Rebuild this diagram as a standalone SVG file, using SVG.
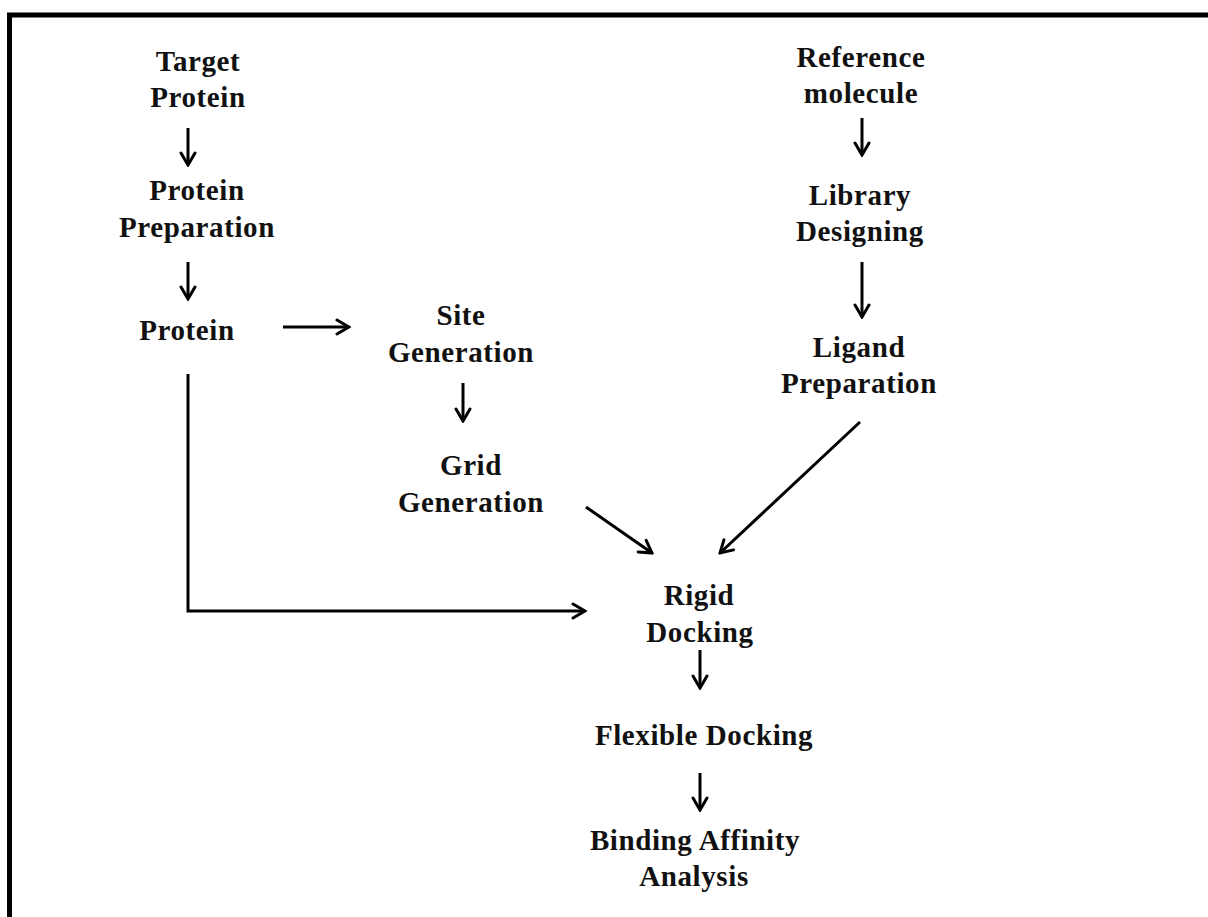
<svg xmlns="http://www.w3.org/2000/svg" width="1208" height="917" viewBox="0 0 1208 917">
<style>
text{font-family:"Liberation Serif","Times New Roman",serif;font-weight:bold;font-size:29px;fill:#111;text-anchor:middle;letter-spacing:0.6px}
.c{fill:none;stroke:#000;stroke-width:3;marker-end:url(#ah)}
.b{fill:none;stroke:#000;stroke-width:5}
</style>
<defs>
<marker id="ah" viewBox="0 0 16 18" refX="14" refY="9" markerWidth="16" markerHeight="18" markerUnits="userSpaceOnUse" orient="auto">
<path d="M2,2 L14,9 L2,16" fill="none" stroke="#000" stroke-width="3" stroke-linecap="round" stroke-linejoin="miter"/>
</marker>
</defs>
<rect width="1208" height="917" fill="#fff"/>
<g id="frame">
<line class="b" x1="9.5" y1="15" x2="9.5" y2="917"/>
<line class="b" x1="7" y1="15" x2="1208" y2="15"/>
</g>
<g id="target-protein"><text x="198" y="71">Target</text><text x="198" y="107">Protein</text></g>
<g id="protein-preparation"><text x="197" y="200">Protein</text><text x="197" y="237">Preparation</text></g>
<g id="protein"><text x="187" y="340">Protein</text></g>
<g id="site-generation"><text x="461" y="325">Site</text><text x="461" y="362">Generation</text></g>
<g id="grid-generation"><text x="471" y="475">Grid</text><text x="471" y="512">Generation</text></g>
<g id="reference-molecule"><text x="861" y="67">Reference</text><text x="861" y="103">molecule</text></g>
<g id="library-designing"><text x="860" y="205">Library</text><text x="860" y="241">Designing</text></g>
<g id="ligand-preparation"><text x="859" y="357">Ligand</text><text x="859" y="393">Preparation</text></g>
<g id="rigid-docking"><text x="699" y="605">Rigid</text><text x="700" y="642">Docking</text></g>
<g id="flexible-docking"><text x="704" y="745">Flexible Docking</text></g>
<g id="binding-affinity"><text x="695" y="850">Binding Affinity</text><text x="694" y="886">Analysis</text></g>
<g id="connectors">
<line class="c" x1="188" y1="128" x2="188" y2="165"/>
<line class="c" x1="188" y1="262" x2="188" y2="299"/>
<line class="c" x1="283" y1="327" x2="349" y2="327"/>
<line class="c" x1="463" y1="383" x2="463" y2="421"/>
<path class="c" d="M188,374 L188,611 L585,611"/>
<line class="c" x1="586" y1="507" x2="652" y2="553"/>
<line class="c" x1="860" y1="422" x2="720" y2="553"/>
<line class="c" x1="862" y1="118" x2="862" y2="155"/>
<line class="c" x1="862" y1="262" x2="862" y2="317"/>
<line class="c" x1="700" y1="650" x2="700" y2="688"/>
<line class="c" x1="700" y1="773" x2="700" y2="810"/>
</g>
</svg>
